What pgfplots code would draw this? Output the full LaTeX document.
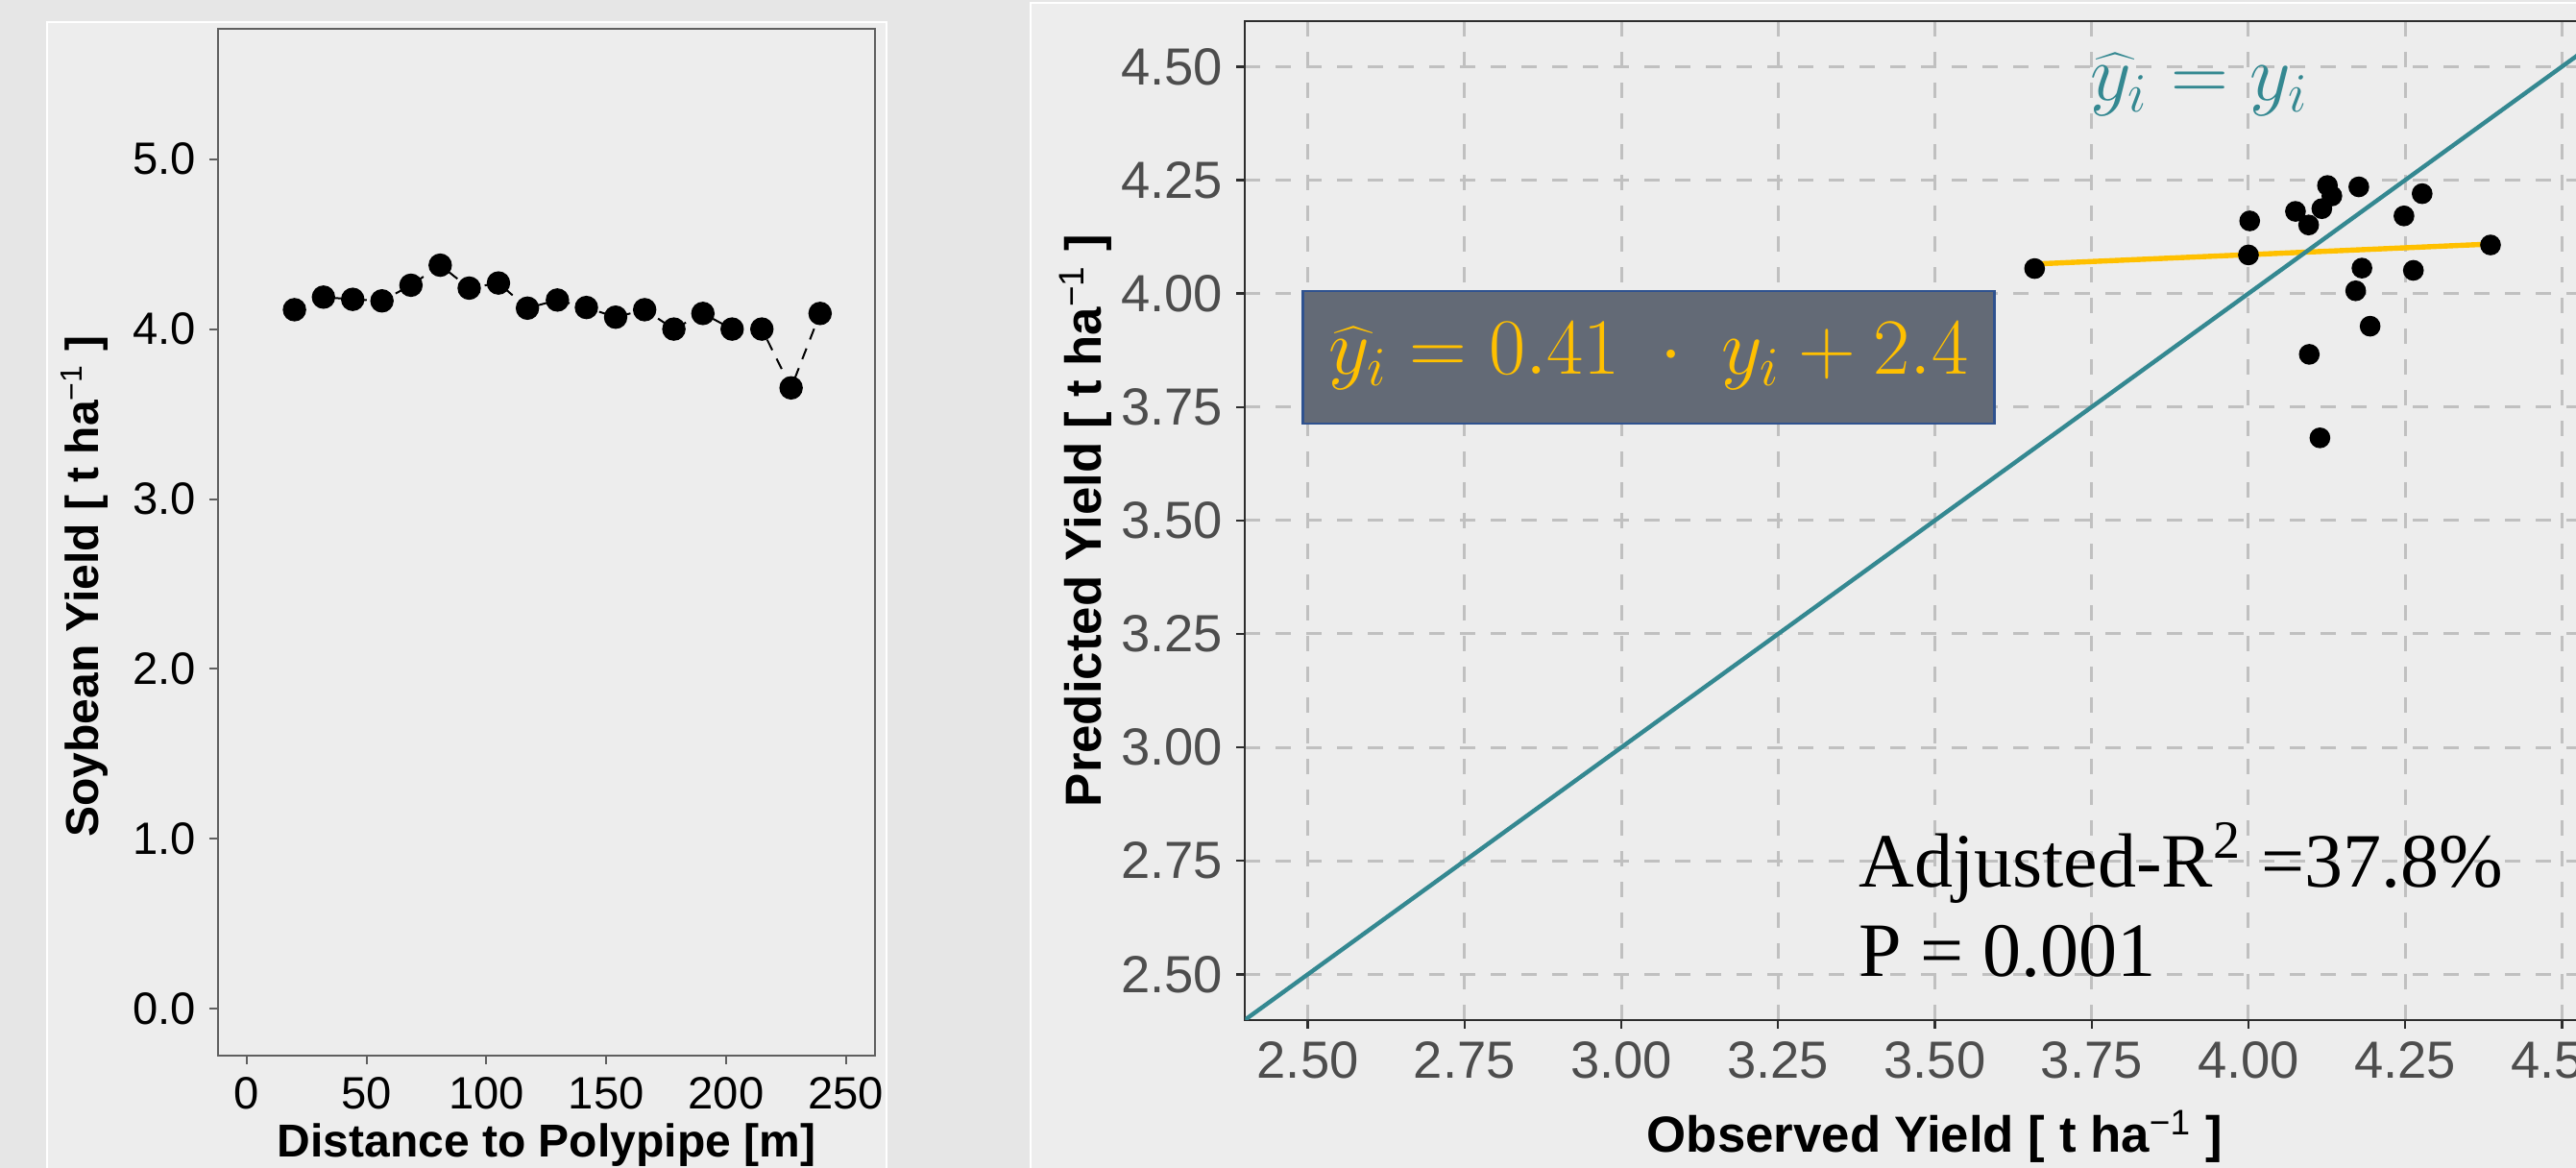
\documentclass[border=0pt]{standalone}
\usepackage{fontspec}
\setmainfont{Liberation Sans}
\newfontfamily\timesfont{Liberation Serif}
\usepackage{pgfplots}
\pgfplotsset{compat=1.18}
\definecolor{bgout}{RGB}{230,230,230}
\definecolor{panel}{RGB}{237,237,237}
\definecolor{tealc}{RGB}{52,136,145}
\definecolor{goldc}{RGB}{255,192,0}
\definecolor{boxfill}{RGB}{99,106,118}
\definecolor{boxdraw}{RGB}{47,82,143}
\definecolor{tickgray}{RGB}{77,77,77}
\definecolor{gridgray}{RGB}{192,192,192}
\definecolor{axgray}{RGB}{95,95,95}
\definecolor{axdark}{RGB}{45,45,45}
\begin{document}
\begin{tikzpicture}
\path[use as bounding box] (0,0) rectangle (670.5pt,304pt);
\clip (0,0) rectangle (670.5pt,304pt);
\fill[bgout] (0,0) rectangle (670.5pt,304pt);
\filldraw[fill=panel,draw=white,line width=0.6pt] (12.25pt,-5pt) rectangle (230.8pt,298.25pt);
\filldraw[fill=panel,draw=white,line width=0.6pt] (268.2pt,-5pt) rectangle (690pt,303.2pt);

\begin{axis}[
  at={(56.75pt,29.25pt)}, anchor=south west, scale only axis,
  width=171pt, height=267.25pt,
  xmin=-12, xmax=262.1, ymin=-0.275, ymax=5.767,
  xtick={0,50,100,150,200,250}, xticklabels={0,50,100,150,200,250},
  ytick={0,1,2,3,4,5}, yticklabels={0.0,1.0,2.0,3.0,4.0,5.0},
  axis line style={draw=axgray, line width=0.5pt},
  tick style={draw=axgray, line width=0.5pt},
  tick align=outside, major tick length=2.2pt,
  xtick pos=left, ytick pos=left,
  tick label style={font=\fontsize{11.8}{14}\selectfont, text=black},
  xlabel={Distance to Polypipe [m]},
  ylabel={Soybean Yield [ t ha\textsuperscript{\mdseries −1} ]},
  label style={font=\bfseries\fontsize{12}{14}\selectfont},
  xlabel style={at={(axis description cs:0.5,-0.0985)}, anchor=base},
  ylabel style={at={(axis description cs:-0.1813,0.457)}, anchor=base},
  axis background/.style={fill=panel},
]
\addplot[black, line width=0.5pt, dash pattern=on 3pt off 2.5pt, mark=*, mark size=2.8pt, mark options={solid}] coordinates {
(19.9,4.114) (32.0,4.188) (44.2,4.175) (56.4,4.166) (68.5,4.258) (80.7,4.376)
(92.8,4.241) (105.0,4.271) (117.1,4.123) (129.6,4.171) (141.7,4.127) (153.9,4.070)
(166.0,4.114) (178.2,4.000) (190.3,4.092) (202.5,4.000) (214.9,4.000) (227.1,3.654)
(239.2,4.092)};
\end{axis}

\begin{axis}[
  at={(324.08pt,38.58pt)}, anchor=south west, scale only axis,
  width=359.1pt, height=259.9pt,
  xmin=2.4, xmax=4.6, ymin=2.4, ymax=4.6,
  xtick={2.5,2.75,3,3.25,3.5,3.75,4,4.25,4.5},
  xticklabels={2.50,2.75,3.00,3.25,3.50,3.75,4.00,4.25,4.50},
  ytick={2.5,2.75,3,3.25,3.5,3.75,4,4.25,4.5},
  yticklabels={2.50,2.75,3.00,3.25,3.50,3.75,4.00,4.25,4.50},
  grid=major,
  grid style={gridgray, line width=0.75pt, dash pattern=on 4pt off 4pt},
  axis line style={draw=axdark, line width=0.5pt},
  tick style={draw=axdark, line width=0.6pt},
  tick align=outside, major tick length=2.25pt,
  xtick pos=left, ytick pos=left,
  tick label style={font=\fontsize{13.6}{16}\selectfont, text=tickgray},
  xlabel={Observed Yield [ t ha\textsuperscript{\mdseries −1} ]},
  ylabel={Predicted Yield [ t ha\textsuperscript{\mdseries −1} ]},
  label style={font=\bfseries\fontsize{13.2}{16}\selectfont},
  xlabel style={at={(axis description cs:0.5,-0.1323)}, anchor=base},
  ylabel style={at={(axis description cs:-0.1046,0.5)}, anchor=base},
  axis background/.style={fill=panel},
]
\addplot[only marks, mark=*, mark size=2.5pt, black] coordinates {
(3.659,4.055) (4.002,4.160) (4.000,4.085) (4.075,4.181) (4.096,4.151) (4.117,4.187)
(4.126,4.238) (4.133,4.215) (4.176,4.235) (4.248,4.171) (4.277,4.220) (4.181,4.056)
(4.263,4.051) (4.171,4.006) (4.194,3.928) (4.097,3.866) (4.114,3.682) (4.386,4.107)};
\addplot[goldc, line width=1.35pt] coordinates {(3.659,4.065) (4.386,4.109)};
\addplot[tealc, line width=1.1pt] coordinates {(2.4,2.4) (4.6,4.6)};
\draw[fill=boxfill, draw=boxdraw, line width=0.6pt] (axis cs:2.4919,3.7132) rectangle (axis cs:3.5947,4.0051);
\node[text=goldc, font=\fontsize{21}{24}\selectfont] at (axis cs:3.0433,3.862) {$\widehat{y}_i = 0.41\;\cdot\;y_i + 2.4$};
\node[text=tealc, font=\fontsize{21.5}{24}\selectfont] at (axis cs:3.922,4.46) {$\widehat{y}_i = y_i$};
\node[anchor=base west, inner sep=0pt, font=\timesfont\fontsize{20}{24}\selectfont] at (axis cs:3.3775,2.693) {Adjusted-R\textsuperscript{2} =37.8\%};
\node[anchor=base west, inner sep=0pt, font=\timesfont\fontsize{20}{24}\selectfont] at (axis cs:3.3775,2.4964) {P = 0.001};
\end{axis}
\end{tikzpicture}
\end{document}
